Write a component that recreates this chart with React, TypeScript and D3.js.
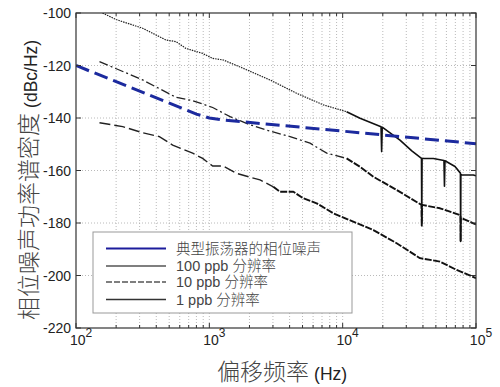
import { useRef, useEffect } from 'react';
import * as d3 from 'd3';

const width = 500;
const height = 387;

// typical oscillator phase noise (blue dashed)
const oscFreq = [100, 800, 1000, 1300, 10000, 100000];
const oscNoise = [-120, -138.5, -140, -140.8, -145, -149.8];

// 100 ppb resolution
const freq100 = [158, 200, 316, 473, 562, 668, 891, 1060, 1274, 1800, 2850, 4520, 7160, 10700, 13500, 19400, 19600, 19800, 26900, 33000, 39000, 39200, 39400, 47900, 57500, 58000, 58500, 69600, 76400, 76700, 77000, 78100, 95500, 100000];
const noise100 = [-100, -102.5, -105.8, -110.3, -110.9, -113.5, -115.4, -117.3, -117.9, -121.1, -125.5, -130.6, -135, -137.6, -140.1, -143.3, -152.8, -143.5, -148.4, -152.5, -155.4, -180, -155.4, -155.4, -156.2, -166, -156.3, -158.5, -161, -187, -161.5, -161.7, -161.7, -162];

// 10 ppb resolution
const freq10 = [150, 316, 562, 750, 1060, 1430, 2000, 2690, 4030, 5690, 7590, 10700, 13500, 17000, 25400, 39000, 39200, 39400, 53700, 75900, 76500, 76700, 77000, 95500, 100000];
const noise10 = [-118.5, -125.5, -132.1, -133.4, -136, -139.5, -142.5, -144.6, -147.1, -149.6, -153.4, -155.4, -158.6, -162.4, -167.4, -173.1, -181, -173.1, -174.4, -177, -177.5, -187, -178, -180.1, -180.5];

// 1 ppb resolution
const freq1 = [150, 224, 316, 422, 531, 750, 891, 1060, 1274, 1600, 2400, 3020, 3390, 4270, 5070, 6380, 8510, 12000, 17000, 25400, 38000, 53700, 71600, 100000];
const noise1 = [-141.8, -143.3, -145.6, -147.1, -150.3, -153.4, -155.4, -158.3, -158.3, -161.1, -163.6, -166.2, -168.1, -168.1, -170.6, -172.5, -176.3, -179.5, -182.7, -187.7, -193.4, -194.7, -197.9, -201];

const yTicks = [-100, -120, -140, -160, -180, -200, -220];
const xDecades = [100, 1000, 10000, 100000];
const xExponents = ['2', '3', '4', '5'];

const legendLabels = ['典型振荡器的相位噪声', '100 ppb 分辨率', '10 ppb 分辨率', '1 ppb 分辨率'];

const latin = 'Liberation Sans, Arial, sans-serif';
const cjk = 'Noto Sans CJK SC, sans-serif';

export default function App() {
  const svgRef = useRef<SVGSVGElement | null>(null);

  useEffect(() => {
    if (!svgRef.current) return;
    const svg = d3.select(svgRef.current);
    svg.selectAll('*').remove();

    const margin = { top: 13, right: 24, bottom: 59, left: 76 };
    const iw = width - margin.left - margin.right;
    const ih = height - margin.top - margin.bottom;

    const x = d3.scaleLog().domain([1e2, 1e5]).range([0, iw]);
    const y = d3.scaleLinear().domain([-220, -100]).range([ih, 0]);

    svg.append('defs').append('clipPath').attr('id', 'plotClip')
      .append('rect').attr('width', iw).attr('height', ih);

    const g = svg.append('g').attr('transform', `translate(${margin.left},${margin.top})`);

    // grid
    const xt = x.ticks();
    g.append('g').selectAll('line').data(xt.filter((t) => t > 100 && t < 1e5)).join('line')
      .attr('x1', (d) => x(d)).attr('x2', (d) => x(d)).attr('y1', 0).attr('y2', ih)
      .attr('stroke', '#a8a8a8').attr('stroke-width', 0.8).attr('stroke-dasharray', '1,2');
    g.append('g').selectAll('line').data(yTicks.slice(1, -1)).join('line')
      .attr('x1', 0).attr('x2', iw).attr('y1', (d) => y(d)).attr('y2', (d) => y(d))
      .attr('stroke', '#a8a8a8').attr('stroke-width', 0.8).attr('stroke-dasharray', '1,2');

    // series
    const line = d3.line<[number, number]>().x((d) => x(d[0])).y((d) => y(d[1]));
    const plot = g.append('g').attr('clip-path', 'url(#plotClip)');

    const drawSeries = (fs: number[], vs: number[], split: number, first: any, second: any) => {
      const pts = fs.map((f, i) => [f, vs[i]] as [number, number]);
      const idx = fs.findIndex((f) => f >= split);
      const a = pts.slice(0, idx + 1);
      const b = pts.slice(idx);
      plot.append('path').datum(a).attr('d', line).attr('fill', 'none')
        .attr('stroke', first.color).attr('stroke-width', first.w).attr('stroke-dasharray', first.dash);
      plot.append('path').datum(b).attr('d', line).attr('fill', 'none')
        .attr('stroke', second.color).attr('stroke-width', second.w).attr('stroke-dasharray', second.dash)
        .attr('stroke-linejoin', 'round');
    };

    drawSeries(freq100, noise100, 8000,
      { color: '#222', w: 1.2, dash: '1.5,1' },
      { color: '#111', w: 1.6, dash: null });
    drawSeries(freq10, noise10, 10700,
      { color: '#222', w: 1.3, dash: '9,3,2,3' },
      { color: '#111', w: 1.9, dash: '7,1.5' });
    drawSeries(freq1, noise1, 3020,
      { color: '#222', w: 1.4, dash: '11,4' },
      { color: '#111', w: 1.9, dash: '7,1.5' });

    plot.append('path').datum(oscFreq.map((f, i) => [f, oscNoise[i]] as [number, number]))
      .attr('d', line).attr('fill', 'none').attr('stroke', '#1c2a9e').attr('stroke-width', 3)
      .attr('stroke-dasharray', '14,6');

    // frame and ticks
    g.append('rect').attr('width', iw).attr('height', ih).attr('fill', 'none')
      .attr('stroke', '#333').attr('stroke-width', 1.2);
    const ticksG = g.append('g').attr('stroke', '#333').attr('stroke-width', 1);
    xt.forEach((t) => {
      const len = xDecades.includes(t) ? 5 : 3;
      ticksG.append('line').attr('x1', x(t)).attr('x2', x(t)).attr('y1', ih).attr('y2', ih - len);
      ticksG.append('line').attr('x1', x(t)).attr('x2', x(t)).attr('y1', 0).attr('y2', len);
    });
    yTicks.forEach((t) => {
      ticksG.append('line').attr('x1', 0).attr('x2', 5).attr('y1', y(t)).attr('y2', y(t));
      ticksG.append('line').attr('x1', iw).attr('x2', iw - 5).attr('y1', y(t)).attr('y2', y(t));
    });

    // tick labels
    g.append('g').selectAll('text').data(yTicks).join('text')
      .attr('x', -5).attr('y', (d) => y(d)).attr('dy', '0.36em')
      .attr('text-anchor', 'end').attr('font-family', latin).attr('font-size', 14).attr('fill', '#222')
      .text((d) => String(d));

    xDecades.forEach((d, i) => {
      const t = g.append('text').attr('x', x(d) + 5).attr('y', ih + 17)
        .attr('text-anchor', 'middle').attr('font-family', latin).attr('font-size', 14).attr('fill', '#222');
      t.append('tspan').text('10');
      t.append('tspan').attr('dy', -8).attr('font-size', 12).text(xExponents[i]);
    });

    // legend
    const lg = g.append('g').attr('transform', 'translate(17,219)');
    lg.append('rect').attr('width', 259).attr('height', 81).attr('fill', '#fff')
      .attr('stroke', '#999').attr('stroke-width', 1);
    const legendStyles = [
      { color: '#1c1c9c', w: 2, dash: null },
      { color: '#555', w: 1.5, dash: null },
      { color: '#555', w: 1.5, dash: '6,2' },
      { color: '#333', w: 1.5, dash: null },
    ];
    const rowY = [16.5, 34, 50, 67.5];
    legendLabels.forEach((label, i) => {
      lg.append('line').attr('x1', 13).attr('x2', 73).attr('y1', rowY[i]).attr('y2', rowY[i])
        .attr('stroke', legendStyles[i].color).attr('stroke-width', legendStyles[i].w)
        .attr('stroke-dasharray', legendStyles[i].dash);
      lg.append('text').attr('x', 83).attr('y', rowY[i]).attr('dy', '0.36em')
        .attr('font-family', `${latin.split(',')[0]}, ${cjk}`).attr('font-size', 14.5).attr('fill', '#444')
        .attr('font-weight', 300)
        .text(label);
    });

    // axis titles
    const xl = svg.append('text').attr('x', 217).attr('y', 380).attr('fill', '#444');
    xl.append('tspan').attr('font-family', cjk).attr('font-weight', 300).attr('font-size', 23).text('偏移频率 ');
    xl.append('tspan').attr('font-family', latin).attr('font-size', 17.5).attr('fill', '#222').text('(Hz)');

    const yl = svg.append('text').attr('transform', 'translate(37,320) rotate(-90)').attr('fill', '#444');
    yl.append('tspan').attr('font-family', cjk).attr('font-weight', 300).attr('font-size', 23).text('相位噪声功率谱密度 ');
    yl.append('tspan').attr('font-family', latin).attr('font-size', 17.5).attr('fill', '#222').text('(dBc/Hz)');
  }, []);

  return (
    <svg
      ref={svgRef}
      width={width}
      height={height}
      style={{ position: 'absolute', left: 0, top: 0, background: '#fff' }}
    />
  );
}
